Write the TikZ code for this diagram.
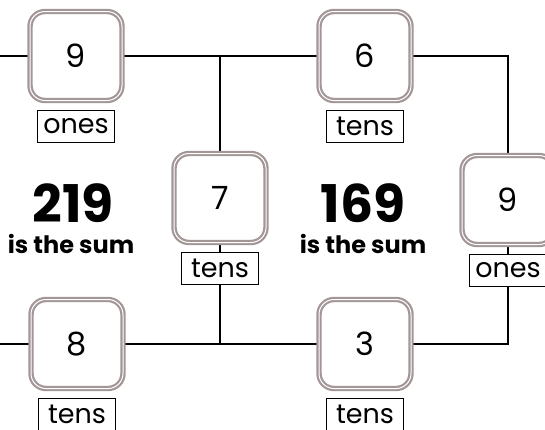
\documentclass[tikz,border=0pt]{standalone}
\usepackage{fontspec}
\setmainfont{Poppins}
\usepackage{tikz}
\usetikzlibrary{positioning,backgrounds}
\definecolor{rim}{HTML}{A39696}

\begin{document}
\begin{tikzpicture}[x=1pt, y=-1pt, node distance=8pt,
  num/.style={draw=rim, line width=2.2pt, double=white, double distance=1pt, fill=white,
    rounded corners=15pt, minimum width=92pt, minimum height=89pt, font=\fontsize{32}{32}\selectfont},
  lab/.style={draw, line width=1.6pt, fill=white, minimum width=77pt, minimum height=32pt,
    inner sep=0pt, inner xsep=5pt, font=\fontsize{27}{27}\selectfont},
  sumno/.style={inner sep=0pt, font=\fontsize{52}{52}\selectfont\bfseries},
  sumtx/.style={inner sep=0pt, font=\fontsize{24}{24}\selectfont\bfseries},
  e/.style={line width=1.8pt}]
\useasboundingbox (0,0) rectangle (545,429);
% addend boxes
\node[num] (nineL) at (76,56) {9};
\node[num] (seven) at (220,198) {7};
\node[num] (six) at (365,56) {6};
\node[num] (nineR) at (508,200) {9};
\node[num] (eight) at (77,344) {8};
\node[num] (three) at (365,344) {3};
% place labels
\node[lab, below=of nineL] (onesL) {ones};
\node[lab, below=of seven] (tensM) {tens};
\node[lab, below=of six] (tensT) {tens};
\node[lab, below=of nineR] (onesR) {ones};
\node[lab, below=of eight] (tensB) {tens};
\node[lab, below=of three] (tensBR) {tens};
% sums
\node[sumno] (sumA) at (73,203) {219};
\node[sumtx] (txtA) at (71,244) {is the sum};
\node[sumno] (sumB) at (363,203) {169};
\node[sumtx] (txtB) at (363,244) {is the sum};
\coordinate (inT) at (0,56);
\coordinate (inB) at (0,344);
\begin{scope}[on background layer]
\draw[e] (inT) -- (nineL) -- (six);
\draw[e] (seven) -- (seven |- nineL);
\draw[e] (seven) -- (tensM) -- (tensM |- eight);
\draw[e] (inB) -- (eight) -- (three);
\draw[e] (six) -| (nineR);
\draw[e] (nineR) -- (onesR) |- (three);
\end{scope}
\end{tikzpicture}
\end{document}
